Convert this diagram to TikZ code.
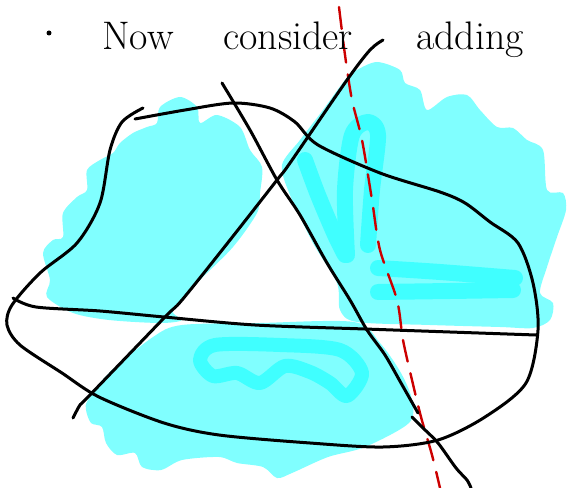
\documentclass[tikz,border=0pt]{standalone}
\usepackage{xcolor}
\definecolor{skcyan}{RGB}{128,255,255}
\definecolor{skcyanhi}{RGB}{64,255,255}
\definecolor{skred}{RGB}{204,0,0}
\usetikzlibrary{positioning}

\begin{document}
\begin{tikzpicture}[
  x=1bp, y=-1bp,
  blob/.style={fill=skcyan, draw=none},
  hilite/.style={draw=skcyanhi, line width=16bp, line cap=round, line join=round},
  pen/.style={draw=black, line width=3bp, line cap=round, line join=round},
  cutline/.style={draw=skred, line width=2.4bp, line cap=round, dash pattern=on 22bp off 12bp},
  hand/.style={font=\fontsize{40}{44}\selectfont, inner sep=0pt, anchor=base west},
  dot/.style={circle, fill=black, inner sep=0pt, minimum size=5bp}
]
\useasboundingbox (0,0) rectangle (569,488);

\fill[blob] plot[smooth cycle] coordinates {(157,123) (160,107) (180,97) (197,107) (200,123) (217,115) (240,127) (250,150) (262,167) (260,193) (257,213) (233,247) (200,280) (173,310) (182,320) (160,323) (109,320) (73,313) (47,297) (50,280) (43,253) (53,240) (63,237) (63,213) (77,197) (87,190) (87,170) (100,160) (113,153) (120,143) (133,133) (147,127)};
\fill[blob] plot[smooth cycle] coordinates {(357,70) (377,62) (400,70) (405,83) (420,90) (427,110) (447,97) (467,95) (480,110) (497,127) (513,128) (527,140) (543,150) (547,190) (563,193) (566,210) (557,237) (547,267) (540,293) (553,303) (550,320) (533,328) (500,327) (430,325) (357,322) (340,310) (337,283) (313,243) (290,195) (282,165) (300,140) (323,110) (345,80)};
\fill[blob] plot[smooth cycle] coordinates {(182,325) (260,323) (354,322) (380,343) (401,373) (412,400) (409,423) (365,447) (328,457) (292,473) (277,478) (263,467) (237,463) (219,457) (182,460) (161,470) (142,467) (135,453) (117,455) (106,443) (102,427) (91,423) (86,410) (88,400) (109,373) (153,337)};

\draw[hilite] plot[smooth] coordinates {(347,255) (345,190) (352,135) (368,122) (378,135) (372,190) (368,245)};
\draw[hilite] plot[smooth] coordinates {(305,160) (318,195) (335,235) (345,255)};
\draw[hilite] plot[smooth] coordinates {(378,268) (440,272) (515,278)};
\draw[hilite] plot[smooth] coordinates {(378,292) (450,291) (513,290)};
\draw[hilite, line width=14bp] plot[smooth cycle] coordinates {(200,360) (215,345) (280,345) (340,350) (362,373) (347,396) (330,383) (310,372) (285,366) (260,383) (237,373) (213,376)};

\draw[cutline] plot[smooth] coordinates {(339,7) (345,55) (352,100) (362,140) (372,200) (380,250) (397,300) (403,340) (412,380) (421,417) (432,455) (440,488)};

\draw[pen] plot[smooth] coordinates {(135,119) (185,110) (233,103) (270,108) (295,122) (318,145) (380,173) (440,192) (465,203) (490,222) (518,243) (533,283) (538,330) (526,383) (485,417) (438,440) (383,447) (310,443) (219,435) (164,423) (99,397) (62,373) (20,345) (7,325) (12,305) (40,273) (77,243) (100,203) (110,150) (122,122) (143,108)};
\draw[pen] plot[smooth] coordinates {(13,298) (36,307) (100,311) (164,317) (255,325) (365,329) (450,332) (536,335)};
\draw[pen] plot[smooth] coordinates {(222,83) (250,130) (277,180) (300,215) (327,263) (350,300) (367,330) (385,355) (401,383) (418,413)};
\draw[pen] plot[smooth] coordinates {(412,417) (423,428) (438,443) (456,468) (467,480) (471,488)};
\draw[pen] plot[smooth] coordinates {(73,418) (80,405) (88,397) (164,318) (182,300) (230,240) (277,180) (290,163) (347,80) (370,50) (383,40)};

\node[dot] (bullet) at (49,33) {};
\node[hand] (now) at (102,50) {Now};
\node[hand] (consider) at (223,50) {consider};
\node[hand] (adding) at (416,50) {adding};
\end{tikzpicture}
\end{document}
